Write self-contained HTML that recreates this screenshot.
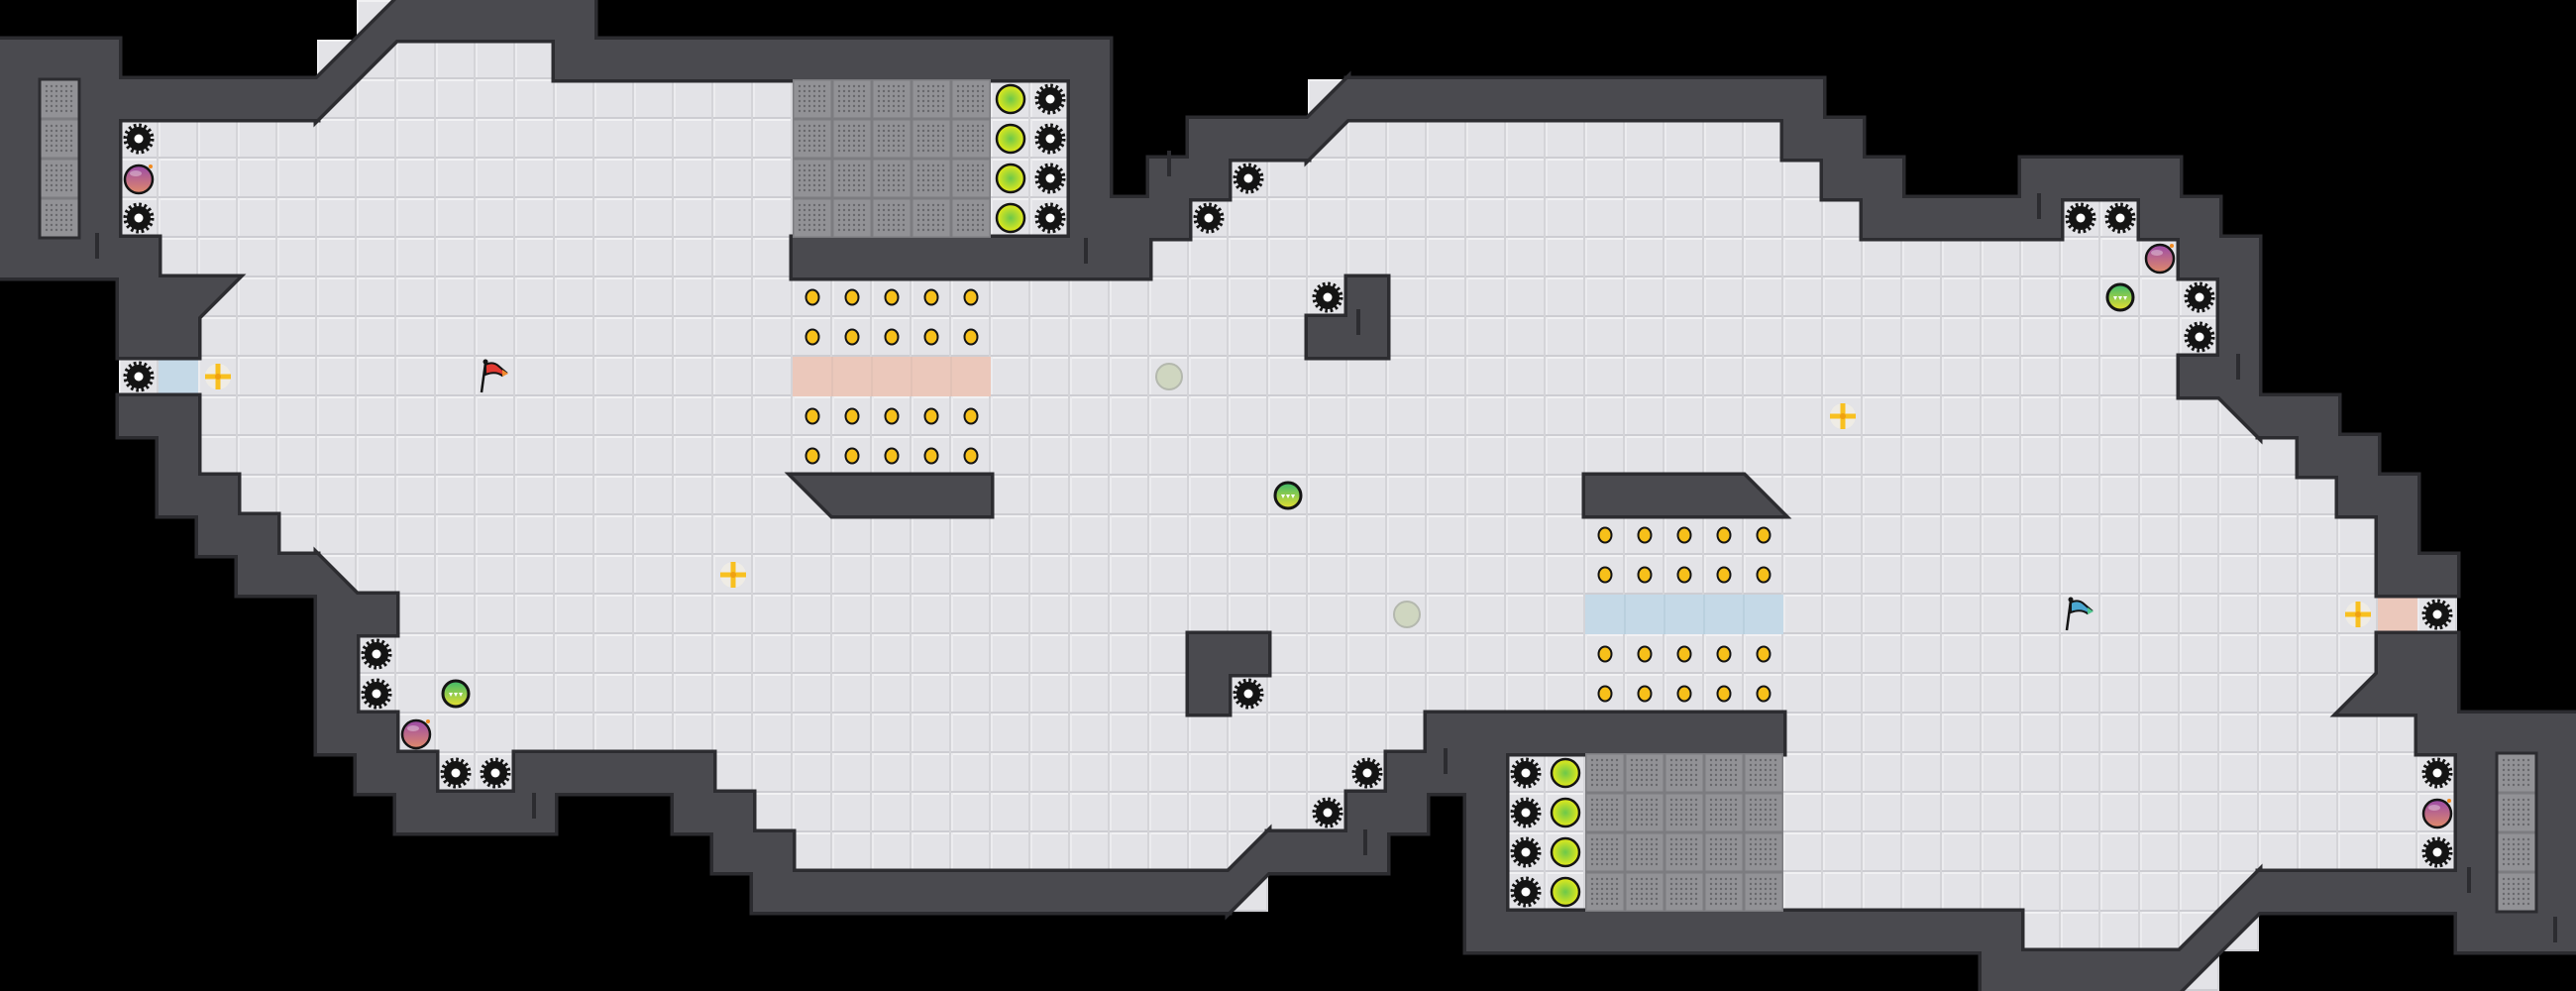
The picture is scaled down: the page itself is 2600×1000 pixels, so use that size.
<!DOCTYPE html>
<html><head><meta charset="utf-8"><style>html,body{margin:0;padding:0;background:#000;width:2600px;height:1000px;overflow:hidden}svg{display:block}</style></head><body>
<svg width="2600" height="1000" viewBox="0 0 2600 1000" xmlns="http://www.w3.org/2000/svg" xmlns:xlink="http://www.w3.org/1999/xlink">
<defs>
<pattern id="tile" width="40" height="40" patternUnits="userSpaceOnUse">
<rect width="40" height="40" fill="#e3e3e7"/>
<rect x="0" y="0" width="40" height="2" fill="#f1f1f3"/>
<rect x="0" y="0" width="2" height="40" fill="#ececef"/>
<rect x="0" y="38" width="40" height="2" fill="#cdcdd2"/>
<rect x="38" y="0" width="2" height="40" fill="#d4d4d8"/>
</pattern>
<pattern id="grate" width="40" height="40" patternUnits="userSpaceOnUse">
<rect width="40" height="40" fill="#7c7c80"/>
<rect x="1.5" y="1.5" width="37" height="37" fill="#929296"/>
<g fill="#68686c">
<circle cx="7" cy="7" r="1.2"/><circle cx="12" cy="7" r="1.2"/><circle cx="17" cy="7" r="1.2"/><circle cx="22" cy="7" r="1.2"/><circle cx="27" cy="7" r="1.2"/><circle cx="32" cy="7" r="1.2"/>
<circle cx="7" cy="12" r="1.2"/><circle cx="12" cy="12" r="1.2"/><circle cx="17" cy="12" r="1.2"/><circle cx="22" cy="12" r="1.2"/><circle cx="27" cy="12" r="1.2"/><circle cx="32" cy="12" r="1.2"/>
<circle cx="7" cy="17" r="1.2"/><circle cx="12" cy="17" r="1.2"/><circle cx="17" cy="17" r="1.2"/><circle cx="22" cy="17" r="1.2"/><circle cx="27" cy="17" r="1.2"/><circle cx="32" cy="17" r="1.2"/>
<circle cx="7" cy="22" r="1.2"/><circle cx="12" cy="22" r="1.2"/><circle cx="17" cy="22" r="1.2"/><circle cx="22" cy="22" r="1.2"/><circle cx="27" cy="22" r="1.2"/><circle cx="32" cy="22" r="1.2"/>
<circle cx="7" cy="27" r="1.2"/><circle cx="12" cy="27" r="1.2"/><circle cx="17" cy="27" r="1.2"/><circle cx="22" cy="27" r="1.2"/><circle cx="27" cy="27" r="1.2"/><circle cx="32" cy="27" r="1.2"/>
<circle cx="7" cy="32" r="1.2"/><circle cx="12" cy="32" r="1.2"/><circle cx="17" cy="32" r="1.2"/><circle cx="22" cy="32" r="1.2"/><circle cx="27" cy="32" r="1.2"/><circle cx="32" cy="32" r="1.2"/>
</g>
</pattern>
<radialGradient id="yg" cx="0.5" cy="0.5" r="0.5"><stop offset="0" stop-color="#6cc84a"/><stop offset="1" stop-color="#e6ea1a"/></radialGradient>
<linearGradient id="gg" x1="0" y1="0" x2="0" y2="1"><stop offset="0" stop-color="#3cb86a"/><stop offset="1" stop-color="#e8e030"/></linearGradient>
<linearGradient id="pg" x1="0" y1="0" x2="0" y2="1"><stop offset="0" stop-color="#9a4aa8"/><stop offset="1" stop-color="#e08a6a"/></linearGradient>
<g id="gear">
<circle cx="20" cy="20" r="12" fill="#141414"/>
<circle cx="20" cy="20" r="13.5" fill="none" stroke="#141414" stroke-width="4" stroke-dasharray="2.6 2.7"/>
<circle cx="20" cy="20" r="4.5" fill="#fff"/>
</g>
<g id="bomb">
<circle cx="20" cy="21" r="14" fill="url(#pg)" stroke="#141414" stroke-width="2.5"/>
<ellipse cx="17" cy="15" rx="6" ry="3" fill="#fff" opacity="0.35"/>
<circle cx="32" cy="8" r="2" fill="#f08a20"/>
</g>
<g id="disc"><circle cx="20" cy="20" r="14" fill="url(#yg)" stroke="#141414" stroke-width="2.5"/></g>
<g id="gdisc">
<circle cx="20" cy="20" r="13" fill="url(#gg)" stroke="#141414" stroke-width="3"/>
<path d="M13 19h4l-2 4zM18 19h4l-2 4zM23 19h4l-2 4z" fill="#fff"/>
</g>
<g id="gray"><circle cx="20" cy="20" r="13" fill="#cfd6c0" stroke="#b4b8ae" stroke-width="2"/></g>
<g id="coin"><ellipse cx="20" cy="20" rx="6.5" ry="7.5" fill="#f7c01a" stroke="#141414" stroke-width="2"/></g>
<g id="plus">
<circle cx="20" cy="20" r="13" fill="#f4f0e4" opacity="0.7"/>
<path d="M17.5 7h5v10.5h10.5v5h-10.5v10.5h-5v-10.5h-10.5v-5h10.5z" fill="#f8c020"/>
<circle cx="20" cy="20" r="3" fill="#f0a010"/>
</g>
<g id="walls">
<rect x="400" y="0" width="200" height="40"/>
<rect x="0" y="40" width="120" height="40"/><rect x="560" y="40" width="560" height="40"/>
<rect x="0" y="80" width="320" height="40"/><rect x="1080" y="80" width="40" height="40"/><rect x="1360" y="80" width="480" height="40"/>
<rect x="0" y="120" width="120" height="40"/><rect x="1080" y="120" width="40" height="40"/><rect x="1200" y="120" width="120" height="40"/><rect x="1800" y="120" width="80" height="40"/>
<rect x="0" y="160" width="120" height="40"/><rect x="1080" y="160" width="40" height="40"/><rect x="1160" y="160" width="80" height="40"/><rect x="1840" y="160" width="80" height="40"/><rect x="2040" y="160" width="160" height="40"/>
<rect x="0" y="200" width="120" height="40"/><rect x="1080" y="200" width="120" height="40"/><rect x="1880" y="200" width="200" height="40"/><rect x="2160" y="200" width="80" height="40"/>
<rect x="0" y="240" width="160" height="40"/><rect x="800" y="240" width="360" height="40"/><rect x="2200" y="240" width="80" height="40"/>
<rect x="120" y="280" width="80" height="40"/><rect x="1360" y="280" width="40" height="40"/><rect x="2240" y="280" width="40" height="40"/>
<rect x="120" y="320" width="80" height="40"/><rect x="1320" y="320" width="80" height="40"/><rect x="2240" y="320" width="40" height="40"/>
<rect x="2200" y="360" width="80" height="40"/>
<rect x="120" y="400" width="80" height="40"/><rect x="2280" y="400" width="80" height="40"/>
<rect x="160" y="440" width="40" height="40"/><rect x="2320" y="440" width="80" height="40"/>
<rect x="160" y="480" width="80" height="40"/><rect x="2360" y="480" width="80" height="40"/>
<rect x="200" y="520" width="80" height="40"/><rect x="2400" y="520" width="40" height="40"/>
<rect x="240" y="560" width="80" height="40"/><rect x="2400" y="560" width="80" height="40"/>
<rect x="320" y="600" width="80" height="40"/>
<rect x="320" y="640" width="40" height="40"/><rect x="1200" y="640" width="80" height="40"/><rect x="2400" y="640" width="80" height="40"/>
<rect x="320" y="680" width="40" height="40"/><rect x="1200" y="680" width="40" height="40"/><rect x="2400" y="680" width="80" height="40"/>
<rect x="320" y="720" width="80" height="40"/><rect x="1440" y="720" width="360" height="40"/><rect x="2440" y="720" width="160" height="40"/>
<rect x="360" y="760" width="80" height="40"/><rect x="520" y="760" width="200" height="40"/><rect x="1400" y="760" width="120" height="40"/><rect x="2480" y="760" width="120" height="40"/>
<rect x="400" y="800" width="160" height="40"/><rect x="680" y="800" width="80" height="40"/><rect x="1360" y="800" width="80" height="40"/><rect x="1480" y="800" width="40" height="40"/><rect x="2480" y="800" width="120" height="40"/>
<rect x="720" y="840" width="80" height="40"/><rect x="1280" y="840" width="120" height="40"/><rect x="1480" y="840" width="40" height="40"/><rect x="2480" y="840" width="120" height="40"/>
<rect x="760" y="880" width="480" height="40"/><rect x="1480" y="880" width="40" height="40"/><rect x="2280" y="880" width="320" height="40"/>
<rect x="1480" y="920" width="560" height="40"/><rect x="2480" y="920" width="120" height="40"/>
<rect x="2000" y="960" width="200" height="40"/>
<polygon points="400,0 400,40 320,120 320,80"/>
<polygon points="1360,80 1360,120 1320,160 1320,120"/>
<polygon points="200,280 240,280 200,320"/>
<polygon points="320,560 360,600 320,600"/>
<polygon points="800,480 1000,480 1000,520 840,520"/>
<polygon points="1600,480 1760,480 1800,520 1600,520"/>
<polygon points="2240,400 2280,400 2280,440"/>
<polygon points="2400,680 2400,720 2360,720"/>
<polygon points="1280,840 1280,880 1240,920 1240,880"/>
<polygon points="2280,880 2280,920 2200,1000 2200,960"/>
</g>
</defs>

<g fill="url(#tile)">
<rect x="360" y="0" width="40" height="40"/>
<rect x="320" y="40" width="240" height="40"/>
<rect x="320" y="80" width="760" height="40"/><rect x="1320" y="80" width="40" height="40"/>
<rect x="120" y="120" width="960" height="40"/><rect x="1320" y="120" width="480" height="40"/>
<rect x="120" y="160" width="960" height="40"/><rect x="1240" y="160" width="600" height="40"/>
<rect x="120" y="200" width="960" height="40"/><rect x="1200" y="200" width="680" height="40"/><rect x="2080" y="200" width="80" height="40"/>
<rect x="160" y="240" width="640" height="40"/><rect x="1160" y="240" width="1040" height="40"/>
<rect x="200" y="280" width="2040" height="40"/>
<rect x="200" y="320" width="2040" height="40"/>
<rect x="120" y="360" width="2080" height="40"/>
<rect x="200" y="400" width="2080" height="40"/>
<rect x="200" y="440" width="2120" height="40"/>
<rect x="240" y="480" width="2120" height="40"/>
<rect x="280" y="520" width="2120" height="40"/>
<rect x="320" y="560" width="2080" height="40"/>
<rect x="400" y="600" width="2080" height="40"/>
<rect x="360" y="640" width="2040" height="40"/>
<rect x="360" y="680" width="2040" height="40"/>
<rect x="400" y="720" width="2040" height="40"/>
<rect x="440" y="760" width="80" height="40"/><rect x="720" y="760" width="680" height="40"/><rect x="1520" y="760" width="960" height="40"/>
<rect x="760" y="800" width="600" height="40"/><rect x="1520" y="800" width="960" height="40"/>
<rect x="800" y="840" width="480" height="40"/><rect x="1520" y="840" width="960" height="40"/>
<rect x="1240" y="880" width="40" height="40"/><rect x="1520" y="880" width="760" height="40"/>
<rect x="2040" y="920" width="240" height="40"/>
<rect x="2200" y="960" width="40" height="40"/>
</g>

<rect x="160" y="360" width="40" height="40" fill="#c5d9e7"/>
<rect x="800" y="360" width="200" height="40" fill="#ebc8bb"/>
<rect x="1600" y="600" width="200" height="40" fill="#c5d9e7"/>
<rect x="2400" y="600" width="40" height="40" fill="#ebc8bb"/>
<g stroke="#d8bcb0" stroke-width="1"><line x1="840" y1="360" x2="840" y2="400"/><line x1="880" y1="360" x2="880" y2="400"/><line x1="920" y1="360" x2="920" y2="400"/><line x1="960" y1="360" x2="960" y2="400"/></g>
<g stroke="#b0c6d6" stroke-width="1"><line x1="1640" y1="600" x2="1640" y2="640"/><line x1="1680" y1="600" x2="1680" y2="640"/><line x1="1720" y1="600" x2="1720" y2="640"/><line x1="1760" y1="600" x2="1760" y2="640"/></g>

<use href="#walls" xlink:href="#walls" fill="#2c2c30" stroke="#2c2c30" stroke-width="7"/>
<use href="#walls" xlink:href="#walls" fill="#4a4a4f"/>

<g fill="#2c2c30">
<rect x="96" y="235" width="4" height="26"/><rect x="1094" y="240" width="4" height="26"/>
<rect x="1178" y="152" width="4" height="26"/>
<rect x="1369" y="312" width="4" height="26"/><rect x="2056" y="195" width="4" height="26"/>
<rect x="2257" y="357" width="4" height="26"/><rect x="537" y="800" width="4" height="26"/>
<rect x="1457" y="755" width="4" height="26"/><rect x="1376" y="837" width="4" height="26"/>
<rect x="2490" y="875" width="4" height="26"/><rect x="2577" y="925" width="4" height="26"/>
</g>

<rect x="800" y="80" width="200" height="160" fill="url(#grate)"/>
<rect x="1600" y="760" width="200" height="160" fill="url(#grate)"/>
<rect x="40" y="80" width="40" height="160" fill="url(#grate)" stroke="#2c2c30" stroke-width="3"/>
<rect x="2520" y="760" width="40" height="160" fill="url(#grate)" stroke="#2c2c30" stroke-width="3"/>

<g>
<use href="#gear" xlink:href="#gear" x="120" y="120"/>
<use href="#gear" xlink:href="#gear" x="120" y="200"/>
<use href="#gear" xlink:href="#gear" x="1040" y="80"/>
<use href="#gear" xlink:href="#gear" x="1040" y="120"/>
<use href="#gear" xlink:href="#gear" x="1040" y="160"/>
<use href="#gear" xlink:href="#gear" x="1040" y="200"/>
<use href="#gear" xlink:href="#gear" x="1240" y="160"/>
<use href="#gear" xlink:href="#gear" x="1200" y="200"/>
<use href="#gear" xlink:href="#gear" x="120" y="360"/>
<use href="#gear" xlink:href="#gear" x="1320" y="280"/>
<use href="#gear" xlink:href="#gear" x="2080" y="200"/>
<use href="#gear" xlink:href="#gear" x="2120" y="200"/>
<use href="#gear" xlink:href="#gear" x="2200" y="280"/>
<use href="#gear" xlink:href="#gear" x="2200" y="320"/>
<use href="#gear" xlink:href="#gear" x="360" y="640"/>
<use href="#gear" xlink:href="#gear" x="360" y="680"/>
<use href="#gear" xlink:href="#gear" x="440" y="760"/>
<use href="#gear" xlink:href="#gear" x="480" y="760"/>
<use href="#gear" xlink:href="#gear" x="1240" y="680"/>
<use href="#gear" xlink:href="#gear" x="1360" y="760"/>
<use href="#gear" xlink:href="#gear" x="1320" y="800"/>
<use href="#gear" xlink:href="#gear" x="1520" y="760"/>
<use href="#gear" xlink:href="#gear" x="1520" y="800"/>
<use href="#gear" xlink:href="#gear" x="1520" y="840"/>
<use href="#gear" xlink:href="#gear" x="1520" y="880"/>
<use href="#gear" xlink:href="#gear" x="2440" y="760"/>
<use href="#gear" xlink:href="#gear" x="2440" y="840"/>
<use href="#gear" xlink:href="#gear" x="2440" y="600"/>
</g>

<use href="#bomb" xlink:href="#bomb" x="120" y="160"/>
<use href="#bomb" xlink:href="#bomb" x="2160" y="240"/>
<use href="#bomb" xlink:href="#bomb" x="400" y="720"/>
<use href="#bomb" xlink:href="#bomb" x="2440" y="800"/>

<use href="#disc" xlink:href="#disc" x="1000" y="80"/>
<use href="#disc" xlink:href="#disc" x="1000" y="120"/>
<use href="#disc" xlink:href="#disc" x="1000" y="160"/>
<use href="#disc" xlink:href="#disc" x="1000" y="200"/>
<use href="#disc" xlink:href="#disc" x="1560" y="760"/>
<use href="#disc" xlink:href="#disc" x="1560" y="800"/>
<use href="#disc" xlink:href="#disc" x="1560" y="840"/>
<use href="#disc" xlink:href="#disc" x="1560" y="880"/>

<use href="#gdisc" xlink:href="#gdisc" x="2120" y="280"/>
<use href="#gdisc" xlink:href="#gdisc" x="1280" y="480"/>
<use href="#gdisc" xlink:href="#gdisc" x="440" y="680"/>

<use href="#gray" xlink:href="#gray" x="1160" y="360"/>
<use href="#gray" xlink:href="#gray" x="1400" y="600"/>

<use href="#plus" xlink:href="#plus" x="200" y="360"/>
<use href="#plus" xlink:href="#plus" x="720" y="560"/>
<use href="#plus" xlink:href="#plus" x="1840" y="400"/>
<use href="#plus" xlink:href="#plus" x="2360" y="600"/>

<g>
<use href="#coin" xlink:href="#coin" x="800" y="280"/><use href="#coin" xlink:href="#coin" x="840" y="280"/><use href="#coin" xlink:href="#coin" x="880" y="280"/><use href="#coin" xlink:href="#coin" x="920" y="280"/><use href="#coin" xlink:href="#coin" x="960" y="280"/>
<use href="#coin" xlink:href="#coin" x="800" y="320"/><use href="#coin" xlink:href="#coin" x="840" y="320"/><use href="#coin" xlink:href="#coin" x="880" y="320"/><use href="#coin" xlink:href="#coin" x="920" y="320"/><use href="#coin" xlink:href="#coin" x="960" y="320"/>
<use href="#coin" xlink:href="#coin" x="800" y="400"/><use href="#coin" xlink:href="#coin" x="840" y="400"/><use href="#coin" xlink:href="#coin" x="880" y="400"/><use href="#coin" xlink:href="#coin" x="920" y="400"/><use href="#coin" xlink:href="#coin" x="960" y="400"/>
<use href="#coin" xlink:href="#coin" x="800" y="440"/><use href="#coin" xlink:href="#coin" x="840" y="440"/><use href="#coin" xlink:href="#coin" x="880" y="440"/><use href="#coin" xlink:href="#coin" x="920" y="440"/><use href="#coin" xlink:href="#coin" x="960" y="440"/>
<use href="#coin" xlink:href="#coin" x="1600" y="520"/><use href="#coin" xlink:href="#coin" x="1640" y="520"/><use href="#coin" xlink:href="#coin" x="1680" y="520"/><use href="#coin" xlink:href="#coin" x="1720" y="520"/><use href="#coin" xlink:href="#coin" x="1760" y="520"/>
<use href="#coin" xlink:href="#coin" x="1600" y="560"/><use href="#coin" xlink:href="#coin" x="1640" y="560"/><use href="#coin" xlink:href="#coin" x="1680" y="560"/><use href="#coin" xlink:href="#coin" x="1720" y="560"/><use href="#coin" xlink:href="#coin" x="1760" y="560"/>
<use href="#coin" xlink:href="#coin" x="1600" y="640"/><use href="#coin" xlink:href="#coin" x="1640" y="640"/><use href="#coin" xlink:href="#coin" x="1680" y="640"/><use href="#coin" xlink:href="#coin" x="1720" y="640"/><use href="#coin" xlink:href="#coin" x="1760" y="640"/>
<use href="#coin" xlink:href="#coin" x="1600" y="680"/><use href="#coin" xlink:href="#coin" x="1640" y="680"/><use href="#coin" xlink:href="#coin" x="1680" y="680"/><use href="#coin" xlink:href="#coin" x="1720" y="680"/><use href="#coin" xlink:href="#coin" x="1760" y="680"/>
</g>

<g transform="translate(480,360)">
<line x1="6" y1="36" x2="10" y2="6" stroke="#141414" stroke-width="2.5"/>
<circle cx="10" cy="5" r="2.5" fill="#141414"/>
<path d="M10 8 Q18 4 24 10 L31 16 L27 19 Q20 14 10 18 Z" fill="#e23a32" stroke="#141414" stroke-width="2"/>
<path d="M27 13 L33 17 L27 20 Z" fill="#f08a30"/>
</g>
<g transform="translate(2080,600)">
<line x1="6" y1="36" x2="10" y2="6" stroke="#141414" stroke-width="2.5"/>
<circle cx="10" cy="5" r="2.5" fill="#141414"/>
<path d="M10 8 Q18 4 24 10 L31 16 L27 19 Q20 14 10 18 Z" fill="#4aa6d0" stroke="#141414" stroke-width="2"/>
<path d="M27 13 L33 17 L27 20 Z" fill="#50c890"/>
</g>
</svg>
</body></html>
